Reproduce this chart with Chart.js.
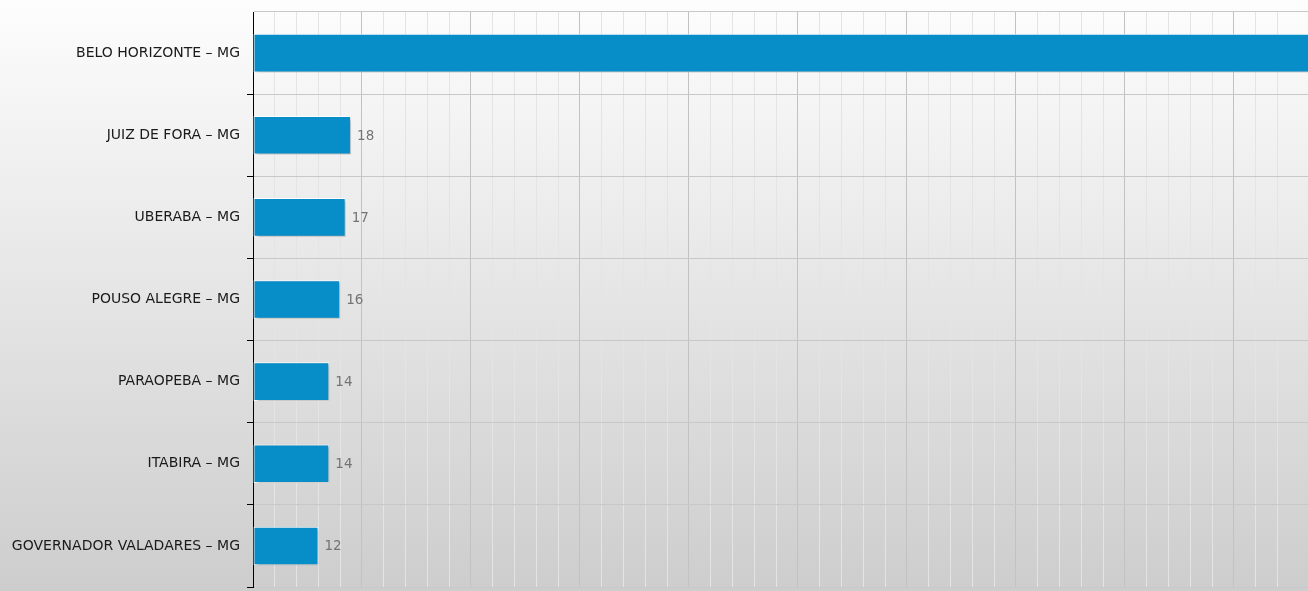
<!DOCTYPE html>
<html>
<head>
<meta charset="utf-8">
<script src="https://cdn.jsdelivr.net/npm/chart.js@4/dist/chart.umd.min.js"></script>
<style>
  html, body { margin: 0; padding: 0; overflow: hidden; }
  #wrap { width: 1308px; height: 591px; position: relative; }
</style>
</head>
<body>
<div id="wrap"><canvas id="rankChart"></canvas></div>
<script>
const cities = [
  "BELO HORIZONTE – MG",
  "JUIZ DE FORA – MG",
  "UBERABA – MG",
  "POUSO ALEGRE – MG",
  "PARAOPEBA – MG",
  "ITABIRA – MG",
  "GOVERNADOR VALADARES – MG"
];
// first bar runs past the visible edge, its label is cut off in the picture
const counts = [215, 18, 17, 16, 14, 14, 12];
const axisMax = 193.6;
const gridStep = 4;
const majorEvery = 20;

document.addEventListener("DOMContentLoaded", () => {
  // vertical grey gradient behind everything
  const bgPlugin = {
    id: "bg",
    beforeDraw(chart) {
      const c = chart.ctx;
      const g = c.createLinearGradient(0, 0, 0, chart.height);
      g.addColorStop(0, "#fdfdfd");
      g.addColorStop(1, "#cdcdcd");
      c.save();
      c.fillStyle = g;
      c.fillRect(0, 0, chart.width, chart.height);
      c.restore();
    }
  };

  // soft shadow under the bars
  const shadowPlugin = {
    id: "barShadow",
    beforeDatasetsDraw(chart) {
      const c = chart.ctx;
      c.save();
      c.shadowColor = "rgba(0,0,0,0.28)";
      c.shadowBlur = 3;
      c.shadowOffsetX = 2;
      c.shadowOffsetY = 2;
    },
    afterDatasetsDraw(chart) {
      chart.ctx.restore();
    }
  };

  // value text right of each bar
  const valuePlugin = {
    id: "values",
    afterDatasetsDraw(chart) {
      const c = chart.ctx;
      const meta = chart.getDatasetMeta(0);
      c.save();
      c.font = "13.5px 'DejaVu Sans'";
      c.fillStyle = "#747474";
      c.textBaseline = "middle";
      c.textAlign = "left";
      meta.data.forEach((bar, i) => {
        if (bar.x > chart.chartArea.right - 20) return;
        c.fillText(String(counts[i]), bar.x + 6, bar.y + 1);
      });
      c.restore();
    }
  };

  const ctx = document.getElementById("rankChart").getContext("2d");
  new Chart(ctx, {
    type: "bar",
    data: {
      labels: cities,
      datasets: [{
        data: counts,
        backgroundColor: "#078dc7",
        borderColor: "#ffffff",
        borderWidth: 1,
        borderSkipped: false,
        categoryPercentage: 1,
        barPercentage: 0.47
      }]
    },
    options: {
      indexAxis: "y",
      responsive: true,
      maintainAspectRatio: false,
      animation: false,
      layout: { padding: { top: 12, bottom: 4, left: 0, right: 0 } },
      plugins: {
        legend: { display: false },
        tooltip: { enabled: false }
      },
      scales: {
        x: {
          min: 0,
          max: axisMax,
          ticks: { display: false, stepSize: gridStep },
          border: { display: false },
          grid: {
            drawTicks: false,
            color: (c) => {
              const v = c.tick ? c.tick.value : 0;
              if (Math.abs(v % majorEvery) < 1e-6) return "#c2c2c2";
              if (Math.abs(v % gridStep) < 1e-6) return "#e4e4e4";
              return "rgba(0,0,0,0)";
            }
          },
          afterFit(scale) {
            scale.height = 0;
            scale.paddingLeft = 0;
            scale.paddingRight = 0;
          }
        },
        y: {
          ticks: {
            color: "#1a1a1a",
            font: { family: "'DejaVu Sans'", size: 14 },
            padding: 7
          },
          border: { display: true, color: "#000000", width: 1 },
          grid: {
            color: "#c8c8c8",
            tickLength: 6,
            tickColor: (c) => (c.index === 0 ? "rgba(0,0,0,0)" : "#000000")
          },
          afterFit(scale) {
            scale.width = 253;
            scale.paddingTop = 0;
            scale.paddingBottom = 0;
          }
        }
      }
    },
    plugins: [bgPlugin, shadowPlugin, valuePlugin]
  });
});
</script>
</body>
</html>
